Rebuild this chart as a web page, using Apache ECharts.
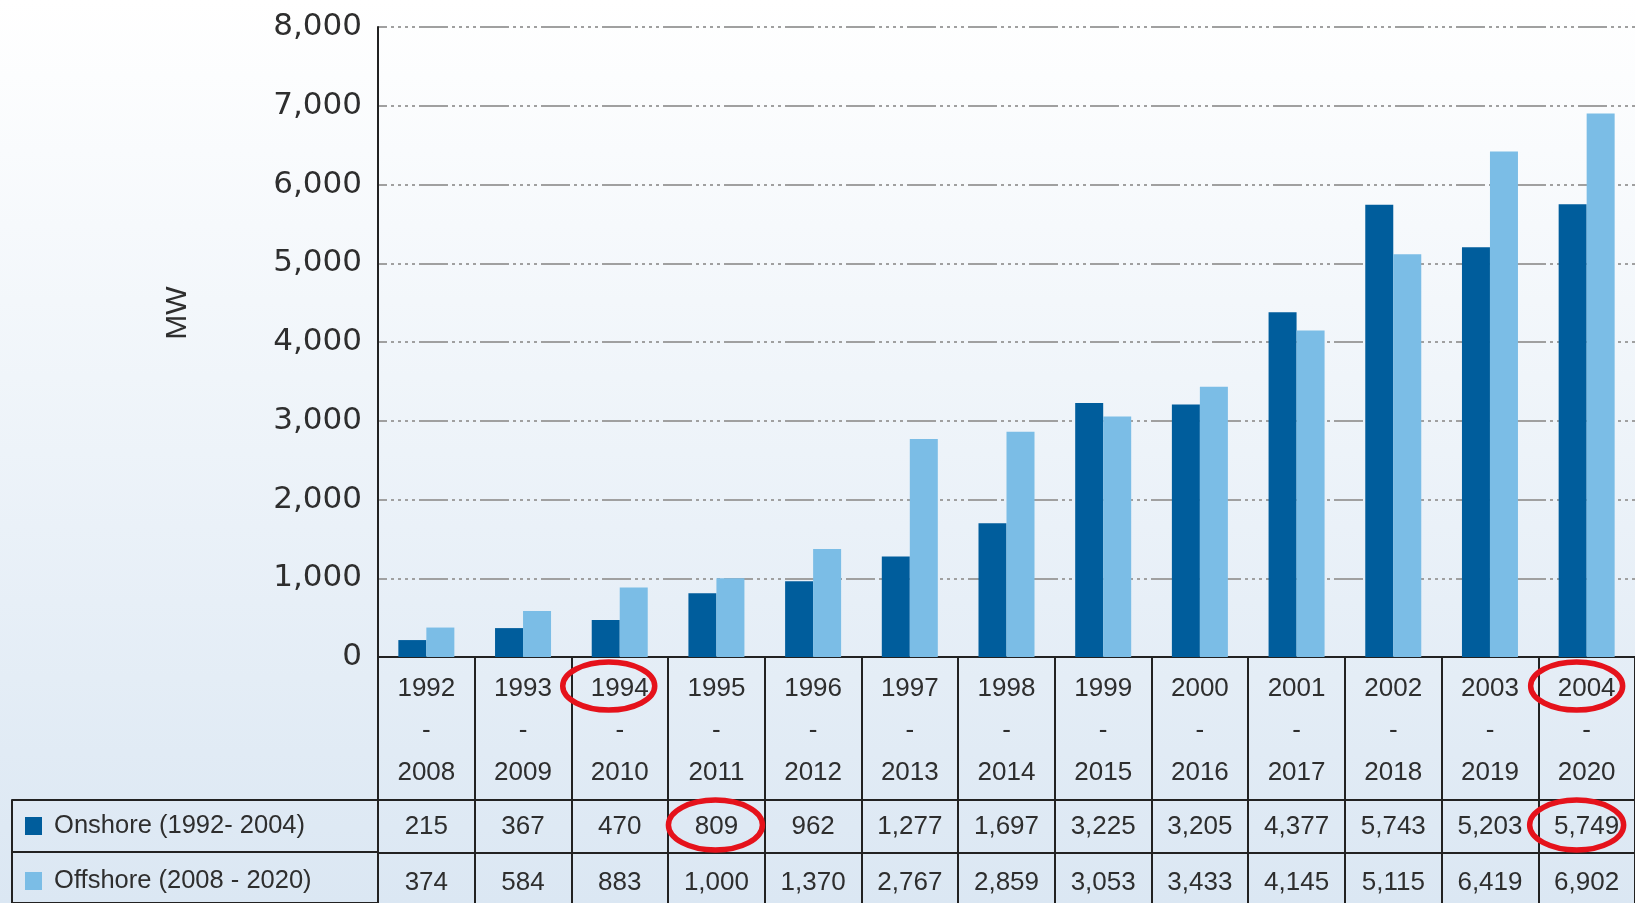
<!DOCTYPE html>
<html>
<head>
<meta charset="utf-8">
<script src="https://cdn.jsdelivr.net/npm/echarts@6/dist/echarts.min.js"></script>
<style>
html, body { margin: 0; padding: 0; }
#main { width: 1635px; height: 903px; }
</style>
</head>
<body>
<div id="main"></div>
<script>
// 数据
var startYears = ['1992', '1993', '1994', '1995', '1996', '1997', '1998', '1999', '2000', '2001', '2002', '2003', '2004']
var endYears = ['2008', '2009', '2010', '2011', '2012', '2013', '2014', '2015', '2016', '2017', '2018', '2019', '2020']
var onshore = [215, 367, 470, 809, 962, 1277, 1697, 3225, 3205, 4377, 5743, 5203, 5749]
var offshore = [374, 584, 883, 1000, 1370, 2767, 2859, 3053, 3433, 4145, 5115, 6419, 6902]
var seriesNames = ['Onshore (1992- 2004)', 'Offshore (2008 - 2020)']
var yTicks = [0, 1000, 2000, 3000, 4000, 5000, 6000, 7000, 8000]
// 红圈标注的单元格（列序号）
var circledHeader = [2, 12]
var circledOnshore = [3, 12]

var fmt = function(v) { return Number(v).toLocaleString('en-US') }
var categories = startYears.map(function(s, i) { return s + '\n-\n' + endYears[i] })

var textColor = '#2e2e2e'
var sans = '"Liberation Sans", Arial, sans-serif'
var borderStyle = { color: '#222', width: 2 }

var option = {
	backgroundColor: {
		type: 'linear', x: 0, y: 0, x2: 0, y2: 1,
		colorStops: [{ offset: 0, color: '#ffffff' }, { offset: 1, color: '#dbe7f3' }]
	},
	animation: false,
	legend: {
		orient: 'vertical',
		left: 20,
		top: 808,
		height: 120,
		icon: 'rect',
		itemWidth: 17,
		itemHeight: 18,
		itemGap: 29,
		selectedMode: false,
		formatter: ' {name}',
		textStyle: { fontFamily: sans, fontSize: 25.5, lineHeight: 24, color: textColor },
		data: seriesNames
	},
	grid: [
		{ left: 378, right: 0, top: 27, bottom: 246 },
		{ left: 12, width: 366, top: 800, height: 108 } // 表格左侧图例列
	],
	xAxis: [
		{
			type: 'category',
			gridIndex: 0,
			data: categories,
			axisLine: { lineStyle: borderStyle },
			axisTick: { show: true, interval: 0, length: 260, lineStyle: borderStyle },
			axisLabel: { interval: 0, fontFamily: sans, fontSize: 26, lineHeight: 42, color: textColor, margin: 11 }
		},
		{
			type: 'category',
			gridIndex: 0,
			position: 'bottom',
			offset: 143,
			data: onshore.map(fmt),
			axisLine: { lineStyle: borderStyle },
			axisTick: { show: false },
			axisLabel: { interval: 0, fontFamily: sans, fontSize: 26, color: textColor, margin: 27, verticalAlign: 'middle' }
		},
		{
			type: 'category',
			gridIndex: 0,
			position: 'bottom',
			offset: 196,
			data: offshore.map(fmt),
			axisLine: { lineStyle: borderStyle },
			axisTick: { show: false },
			axisLabel: { interval: 0, fontFamily: sans, fontSize: 26, color: textColor, margin: 30, verticalAlign: 'middle' }
		},
		{ type: 'value', gridIndex: 1, show: false }
	],
	yAxis: [
		{
			type: 'value',
			gridIndex: 0,
			min: yTicks[0],
			max: yTicks[yTicks.length - 1],
			interval: 1000,
			name: 'MW',
			nameLocation: 'middle',
			nameRotate: 90,
			nameGap: 185,
			nameTextStyle: { fontFamily: sans, fontSize: 30, color: textColor, padding: [0, 0, 0, 58] },
			axisLine: { show: true, lineStyle: borderStyle },
			axisTick: { show: false },
			axisLabel: { formatter: fmt, fontFamily: '"DejaVu Sans", sans-serif', fontSize: 31, color: textColor, margin: 16 },
			splitLine: { lineStyle: { color: '#a0a0a0', width: 2, type: [29, 4, 3, 4, 3, 4, 3, 4, 3, 4], dashOffset: 20 } }
		},
		{
			type: 'category',
			gridIndex: 1,
			inverse: true,
			data: ['on', 'off'],
			axisLine: { show: true, lineStyle: borderStyle },
			axisTick: { show: false },
			axisLabel: { show: false },
			splitLine: { show: true, lineStyle: borderStyle }
		}
	],
	series: [
		{
			name: seriesNames[0],
			type: 'bar',
			xAxisIndex: 0,
			yAxisIndex: 0,
			barWidth: 28,
			barGap: '0%',
			itemStyle: { color: '#005d9c' },
			data: onshore
		},
		{
			name: seriesNames[1],
			type: 'bar',
			xAxisIndex: 0,
			yAxisIndex: 0,
			barWidth: 28,
			barGap: '0%',
			itemStyle: { color: '#7bbde6' },
			data: offshore
		}
	]
}

var myChart = echarts.init(document.getElementById('main'))
myChart.setOption(option)

// 红色椭圆标注，位置由坐标轴换算
var headerY = 686
var onshoreY = 825
var rings = []
function ring(idx, cy, dx, rx, ry) {
	var cx = myChart.convertToPixel({ xAxisIndex: 0 }, idx) + dx
	rings.push({
		type: 'ellipse',
		shape: { cx: cx, cy: cy, rx: rx, ry: ry },
		style: { fill: 'none', stroke: '#e5121b', lineWidth: 5.5 },
		z: 100
	})
}
ring(circledHeader[0], headerY, -11, 46, 24)
ring(circledHeader[1], headerY, -10, 46, 24)
ring(circledOnshore[0], onshoreY, -1, 47, 25)
ring(circledOnshore[1], onshoreY, -10, 47, 25)
myChart.setOption({ graphic: rings })
</script>
</body>
</html>
